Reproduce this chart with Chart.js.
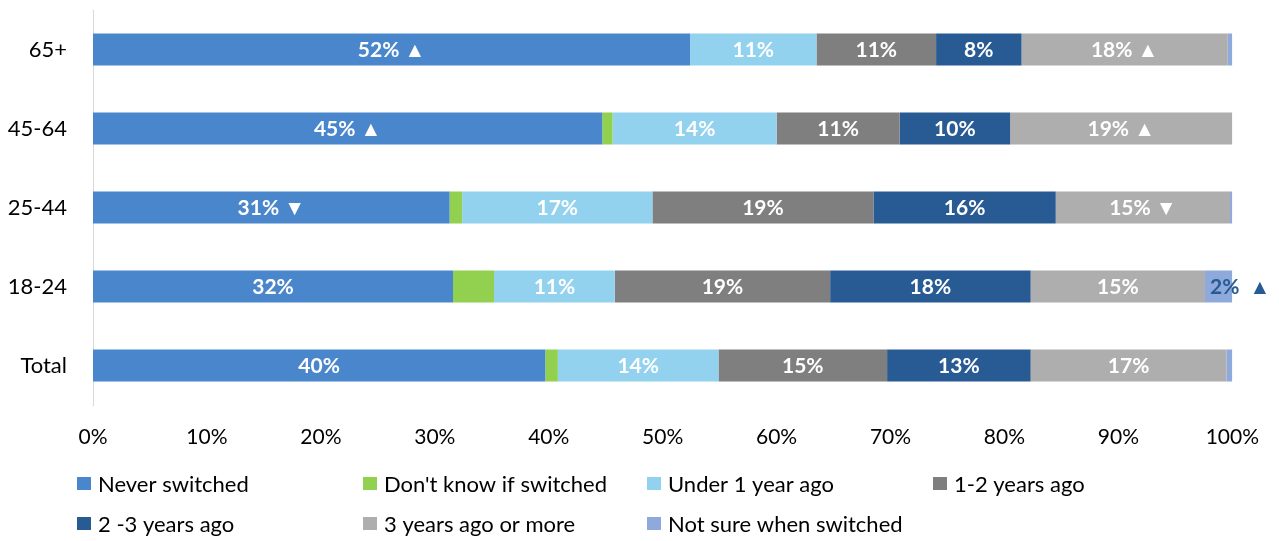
<!DOCTYPE html>
<html>
<head>
<meta charset="utf-8">
<script src="https://cdn.jsdelivr.net/npm/chart.js@4"></script>
<style>
html,body{margin:0;padding:0;background:#fff;}
#wrap{width:1279px;height:541px;position:relative;}
</style>
</head>
<body>
<div id="wrap"><canvas id="c" width="1279" height="541"></canvas></div>
<script>
// ---- data ----
const categories = ["65+", "45-64", "25-44", "18-24", "Total"];
const seriesNames = ["Never switched", "Don't know if switched", "Under 1 year ago", "1-2 years ago", "2 -3 years ago", "3 years ago or more", "Not sure when switched"];
const neverSwitched = [52.4, 44.7, 31.3, 31.6, 39.7];
const dontKnow      = [0, 0.9, 1.1, 3.6, 1.1];
const under1Year    = [11.1, 14.4, 16.7, 10.6, 14.1];
const years1to2     = [10.5, 10.8, 19.4, 18.9, 14.8];
const years2to3     = [7.5, 9.7, 16.0, 17.6, 12.6];
const years3plus    = [18.1, 19.5, 15.3, 15.3, 17.2];
const notSure       = [0.4, 0, 0.2, 2.4, 0.5];
const neverLabels   = ["52% ▲", "45% ▲", "31% ▼", "32%", "40%"];
const dontKnowLabels= ["", "", "", "", ""];
const under1Labels  = ["11%", "14%", "17%", "11%", "14%"];
const y12Labels     = ["11%", "11%", "19%", "19%", "15%"];
const y23Labels     = ["8%", "10%", "16%", "18%", "13%"];
const y3Labels      = ["18% ▲", "19% ▲", "15% ▼", "15%", "17%"];
const notSureLabels = ["", "", "", "2% ▲", ""];
const xTicks = [0, 10, 20, 30, 40, 50, 60, 70, 80, 90, 100];

const colors = ["#4A86CC", "#92D050", "#93D2EF", "#7F7F7F", "#285A94", "#AEAEAE", "#8EAADC"];
const seriesValues = [neverSwitched, dontKnow, under1Year, years1to2, years2to3, years3plus, notSure];
const seriesLabels = [neverLabels, dontKnowLabels, under1Labels, y12Labels, y23Labels, y3Labels, notSureLabels];

const FONT = "Lato, 'Open Sans', sans-serif";

const datasets = seriesNames.map((n, i) => ({
  label: n,
  data: seriesValues[i],
  backgroundColor: colors[i],
  borderWidth: 0,
  categoryPercentage: 0.81,
  barPercentage: 0.5,
  valueLabels: seriesLabels[i]
}));

const barLabelPlugin = {
  id: 'barLabels',
  afterDatasetsDraw(chart) {
    const ctx = chart.ctx;
    ctx.save();
    ctx.font = "bold 21px " + FONT;
    ctx.textBaseline = 'middle';
    chart.data.datasets.forEach((ds, di) => {
      const meta = chart.getDatasetMeta(di);
      meta.data.forEach((bar, i) => {
        const t = ds.valueLabels[i];
        if (!t) return;
        const left = Math.min(bar.base, bar.x), right = Math.max(bar.base, bar.x);
        const w = ctx.measureText(t).width;
        if (w > right - left) {
          ctx.fillStyle = '#285A94';
          ctx.textAlign = 'left';
          ctx.fillText(t.replace(' ', '  '), left + 5, bar.y + 1);
        } else {
          ctx.fillStyle = '#FFFFFF';
          ctx.textAlign = 'center';
          ctx.fillText(t, (left + right) / 2, bar.y + 1);
        }
      });
    });
    ctx.restore();
  }
};

const legendPlugin = {
  id: 'gridLegend',
  afterDraw(chart) {
    const ctx = chart.ctx;
    const cols = [77, 363, 647, 933];
    const rows = [483.5, 523.5];
    ctx.save();
    ctx.font = "22px " + FONT;
    ctx.textBaseline = 'middle';
    ctx.textAlign = 'left';
    chart.data.datasets.forEach((ds, i) => {
      const x = cols[i % 4], y = rows[Math.floor(i / 4)];
      ctx.fillStyle = ds.backgroundColor;
      ctx.fillRect(x, y - 6.5, 14, 13);
      ctx.fillStyle = '#000';
      ctx.fillText(ds.label, x + 21, y + 1);
    });
    ctx.restore();
  }
};

new Chart(document.getElementById('c'), {
  type: 'bar',
  data: { labels: categories, datasets },
  options: {
    indexAxis: 'y',
    responsive: false,
    animation: false,
    layout: { padding: { top: 10, right: 46, bottom: 86, left: 0 } },
    plugins: { legend: { display: false }, tooltip: { enabled: false } },
    scales: {
      x: {
        stacked: true,
        min: 0, max: 100,
        afterBuildTicks(scale) { scale.ticks = xTicks.map(v => ({ value: v })); },
        ticks: {
          callback: v => v + '%',
          color: '#000',
          font: { family: FONT, size: 21 },
          padding: 20,
          maxRotation: 0,
          autoSkip: false
        },
        grid: { display: false, drawTicks: false },
        border: { display: false },
        afterFit(scale) { scale.height = 50; }
      },
      y: {
        stacked: true,
        ticks: {
          color: '#000',
          font: { family: FONT, size: 22 },
          padding: 26
        },
        grid: { display: false, drawTicks: false },
        border: { display: true, color: '#D9D9D9', width: 1 },
        afterFit(scale) { scale.width = 93; scale.paddingTop = 0; scale.paddingBottom = 0; }
      }
    }
  },
  plugins: [barLabelPlugin, legendPlugin]
});
</script>
</body>
</html>
